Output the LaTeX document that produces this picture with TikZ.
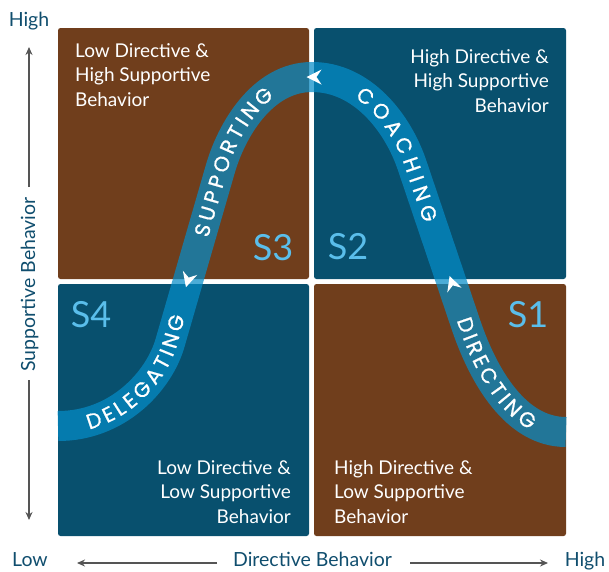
\documentclass[tikz,border=0pt]{standalone}
\usepackage{fontspec}
\setmainfont{Lato}
\newfontfamily\bandfamily[FakeBold=0.8]{Poppins}
\usetikzlibrary{decorations.text,arrows.meta}
\definecolor{qbrown}{RGB}{112,62,28}
\definecolor{qblue}{RGB}{8,80,110}
\definecolor{bandblue}{RGB}{5,140,200}
\definecolor{slabel}{RGB}{90,190,235}
\definecolor{axistext}{RGB}{16,78,110}
\definecolor{axisline}{RGB}{85,85,85}
\newcommand\bandfont{\bandfamily\fontsize{21}{21}\selectfont}
\begin{document}
\begin{tikzpicture}[x=1pt,y=-1pt,
  quad/.style={rounded corners=2.5pt},
  qtext/.style={text=white,font=\fontsize{19}{24.5}\selectfont,inner sep=0pt},
  slab/.style={text=slabel,font=\fontsize{36}{36}\selectfont,inner sep=0pt},
  axlab/.style={text=axistext,font=\fontsize{19.5}{19.5}\selectfont,inner sep=0pt},
  axarrow/.style={draw=axisline,line width=1.8pt,-{Stealth[length=8pt,width=7pt]}},
  bandtext/.style={decoration={text along path,text align=fit to path,raise=-7.3pt,text color=white},decorate},
  chevron/.style={fill=white}]
\useasboundingbox (0,0) rectangle (609,571);
% quadrants
\fill[qbrown,quad] (58,28) rectangle (309,279);
\fill[qblue,quad] (314,28) rectangle (566,279);
\fill[qblue,quad] (58,284) rectangle (309,536);
\fill[qbrown,quad] (314,284) rectangle (566,536);
% band
\draw[bandblue,draw opacity=0.72,line width=30pt]
  (58,426) .. controls (118,426) and (159,381) .. (170,343) -- (220,170)
  .. controls (231,131) and (262,77) .. (312,77)
  .. controls (362,77) and (397.5,122.4) .. (412,165) -- (466,325)
  .. controls (483.7,377) and (516,432) .. (566,432);
% band texts
{\bandfont
\path[bandtext,decoration={text={|\bandfont|DELEGATING}}]
  (86.9,422.4) .. controls (131.1,410.9) and (160.9,374.5) .. (170,343) -- (178,315);
\path[bandtext,decoration={text={|\bandfont|SUPPORTING}}]
  (201,236) -- (220,170) .. controls (227.48,143.48) and (244.2,110.0) .. (269.8,91.3);
\path[bandtext,decoration={text={|\bandfont|COACHING}}]
  (359,91.6) .. controls (384.2,108.4) and (402.6,137.3) .. (412,165) -- (431,221);
\path[bandtext,decoration={text={|\bandfont|DIRECTING}}]
  (463.6,318) -- (466,325) .. controls (479.6,365.0) and (501.9,406.3) .. (534.2,423.9);
}
% chevrons
\fill[chevron,shift={(314,77)},rotate=180] (7.5,0) -- (-7.5,-7.5) -- (-2.5,0) -- (-7.5,7.5) -- cycle;
\fill[chevron,shift={(188,280)},rotate=254] (7.5,0) -- (-7.5,-7.5) -- (-2.5,0) -- (-7.5,7.5) -- cycle;
\fill[chevron,shift={(452,283)},rotate=108.7] (7.5,0) -- (-7.5,-7.5) -- (-2.5,0) -- (-7.5,7.5) -- cycle;
% quadrant texts
\node[qtext,anchor=north west,align=left] (tl) at (75,43) {Low Directive \&\\High Supportive\\Behavior};
\node[qtext,anchor=north east,align=right] (tr) at (549,49) {High Directive \&\\High Supportive\\Behavior};
\node[qtext,anchor=north east,align=right] (bl) at (291,460) {Low Directive \&\\Low Supportive\\Behavior};
\node[qtext,anchor=north west,align=left] (br) at (334,460) {High Directive \&\\Low Supportive\\Behavior};
% S labels
\node[slab] (s3) at (273,248) {S3};
\node[slab] (s2) at (348,247) {S2};
\node[slab] (s4) at (91,315) {S4};
\node[slab] (s1) at (528,315) {S1};
% axes
\node[axlab,anchor=base] (yhigh) at (29,26) {High};
\node[axlab,anchor=base] (ylow) at (30,566) {Low};
\node[axlab,anchor=base] (xhigh) at (585,566) {High};
\node[axlab,anchor=base] (xlab) at (312.5,566) {Directive Behavior};
\node[axlab,anchor=base,rotate=90] (ylab) at (35,284.5) {Supportive Behavior};
\coordinate (yupA) at (29,187);
\coordinate (yupB) at (29,47);
\coordinate (ydnA) at (29,380);
\coordinate (ydnB) at (29,520);
\coordinate (xlA) at (217,563);
\coordinate (xlB) at (77,563);
\coordinate (xrA) at (410,563);
\coordinate (xrB) at (548,563);
\draw[axarrow] (yupA) -- (yupB);
\draw[axarrow] (ydnA) -- (ydnB);
\draw[axarrow] (xlA) -- (xlB);
\draw[axarrow] (xrA) -- (xrB);
\end{tikzpicture}
\end{document}
